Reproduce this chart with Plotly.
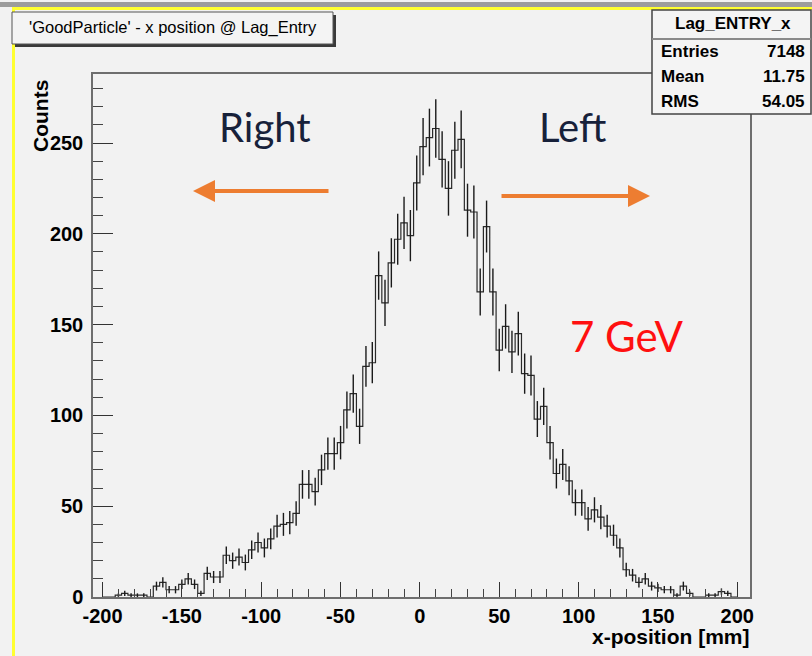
import plotly.graph_objects as go
import numpy as np

# ---- data ----
bin_width = 4
bin_start = -200
counts = [0, 0, 1, 2, 1, 1, 1, 0, 6, 8,
          4, 4, 7, 10, 7, 2, 13, 11, 11, 23,
          20, 22, 19, 26, 30, 27, 32, 39, 40, 41,
          46, 62, 62, 58, 70, 79, 79, 85, 103, 112,
          94, 127, 129, 177, 162, 184, 197, 206, 199, 228,
          248, 253, 258, 241, 225, 246, 252, 213, 212, 168,
          204, 168, 136, 149, 135, 145, 123, 122, 98, 105,
          85, 68, 73, 64, 52, 52, 43, 48, 44, 39,
          34, 27, 15, 12, 8, 10, 6, 5, 4, 4,
          1, 6, 2, 0, 0, 1, 1, 3, 2, 0]
x_ticks = [-200, -150, -100, -50, 0, 50, 100, 150, 200]
x_tick_labels = ["-200", "-150", "-100", "-50", "0", "50", "100", "150", "200"]
y_ticks = [0, 50, 100, 150, 200, 250]
y_tick_labels = ["0", "50", "100", "150", "200", "250"]
stats_labels = ["Entries", "Mean", "RMS"]
stats_values = ["7148", "11.75", "54.05"]

W, H = 812, 656
L, R, T, B = 93, 750, 74, 597


def px(xp):
    return (xp - L) / (R - L)


def py(yp):
    return (B - yp) / (B - T)


n = len(counts)
edges = [bin_start + bin_width * i for i in range(n + 1)]
centers = [bin_start + bin_width * (i + 0.5) for i in range(n)]
step_x = [edges[0]] + edges
step_y = [0] + counts + [counts[-1]]

fig = go.Figure()
fig.add_trace(go.Scatter(x=step_x, y=step_y, mode="lines", line_shape="hv",
                         line=dict(color="#2a2a2a", width=1.2), hoverinfo="skip",
                         showlegend=False))
fig.add_trace(go.Scatter(x=centers, y=counts, mode="markers",
                         marker=dict(size=1, color="rgba(0,0,0,0)"),
                         error_y=dict(type="data", array=list(np.sqrt(counts)),
                                      color="#1a1a1a", thickness=1.4, width=0),
                         showlegend=False, hoverinfo="skip"))

tickfont = dict(family="Liberation Sans, Arial, sans-serif", size=20, color="black", weight="bold")

fig.update_xaxes(range=[-206, 208], showgrid=False, zeroline=False,
                 showline=True, linecolor="#6e6e6e", linewidth=1.5, mirror=True,
                 ticks="inside", ticklen=15, tickcolor="#333", tickwidth=1.3,
                 tickvals=x_ticks, ticktext=x_tick_labels, tickfont=tickfont,
                 ticklabelstandoff=0,
                 minor=dict(ticks="inside", ticklen=8, dtick=10, tickcolor="#444", tickwidth=1.2,
                            showgrid=False))
fig.update_yaxes(range=[0, 288], showgrid=False, zeroline=False,
                 showline=True, linecolor="#6e6e6e", linewidth=1.5, mirror=True,
                 ticks="inside", ticklen=20, tickcolor="#333", tickwidth=1.3,
                 tickvals=y_ticks, ticktext=y_tick_labels, tickfont=tickfont,
                 ticklabelstandoff=4,
                 minor=dict(ticks="inside", ticklen=10, dtick=10, tickcolor="#444", tickwidth=1.2,
                            showgrid=False))

shapes = []
# top gray + yellow border, left yellow border
shapes.append(dict(type="rect", xref="paper", yref="paper", x0=px(0), x1=px(W), y0=py(7), y1=py(2),
                   fillcolor="#9c9c9c", line=dict(width=0), layer="below"))
shapes.append(dict(type="rect", xref="paper", yref="paper", x0=px(12), x1=px(W), y0=py(10), y1=py(7),
                   fillcolor="#ffff30", line=dict(width=0), layer="below"))
shapes.append(dict(type="rect", xref="paper", yref="paper", x0=px(12), x1=px(15), y0=py(H), y1=py(7),
                   fillcolor="#ffff30", line=dict(width=0), layer="below"))
# title box with shadow
shapes.append(dict(type="rect", xref="paper", yref="paper", x0=px(15), x1=px(336), y0=py(47), y1=py(15),
                   fillcolor="#3a3a3a", line=dict(width=0)))
shapes.append(dict(type="rect", xref="paper", yref="paper", x0=px(12), x1=px(333), y0=py(44), y1=py(12),
                   fillcolor="#f4f4f4", line=dict(color="#555", width=1)))
# stats box
shapes.append(dict(type="rect", xref="paper", yref="paper", x0=px(652), x1=px(811), y0=py(114), y1=py(10),
                   fillcolor="#f4f4f4", line=dict(color="#444", width=1.5)))
shapes.append(dict(type="line", xref="paper", yref="paper", x0=px(652), x1=px(811), y0=py(39), y1=py(39),
                   line=dict(color="#8a8a8a", width=2)))

annotations = []
annotations.append(dict(x=px(173), y=py(28), xref="paper", yref="paper", showarrow=False,
                        text="'GoodParticle' - x position @ Lag_Entry",
                        font=dict(family="Liberation Sans, Arial", size=16.5, color="black"),
                        xanchor="center", yanchor="middle"))
annotations.append(dict(x=px(733), y=py(24), xref="paper", yref="paper", showarrow=False,
                        text="Lag_ENTRY_x",
                        font=dict(family="Liberation Sans", size=17, color="black", weight="bold"),
                        xanchor="center", yanchor="middle"))
for i, (lab, val) in enumerate(zip(stats_labels, stats_values)):
    yy = 52 + 24.5 * i
    annotations.append(dict(x=px(659), y=py(yy), xref="paper", yref="paper", showarrow=False,
                            text=lab, font=dict(family="Liberation Sans", size=17, color="black", weight="bold"),
                            xanchor="left", yanchor="middle"))
    annotations.append(dict(x=px(807), y=py(yy), xref="paper", yref="paper", showarrow=False,
                            text=val, font=dict(family="Liberation Sans", size=17, color="black", weight="bold"),
                            xanchor="right", yanchor="middle"))
# axis titles
annotations.append(dict(x=px(40), y=py(78), xref="paper", yref="paper", showarrow=False,
                        text="Counts", textangle=-90,
                        font=dict(family="Liberation Sans", size=21, color="black", weight="bold"),
                        xanchor="center", yanchor="top"))
annotations.append(dict(x=px(752), y=py(636), xref="paper", yref="paper", showarrow=False,
                        text="x-position [mm]",
                        font=dict(family="Liberation Sans", size=21, color="black", weight="bold"),
                        xanchor="right", yanchor="middle"))
# overlay texts
annotations.append(dict(x=px(265), y=py(127), xref="paper", yref="paper", showarrow=False,
                        text="Right", font=dict(family="Lato, Open Sans", size=40, color="#17213a"),
                        xanchor="center", yanchor="middle"))
annotations.append(dict(x=px(572), y=py(127), xref="paper", yref="paper", showarrow=False,
                        text="Left", font=dict(family="Lato, Open Sans", size=40, color="#17213a"),
                        xanchor="center", yanchor="middle"))
annotations.append(dict(x=px(627), y=py(336), xref="paper", yref="paper", showarrow=False,
                        text="7 GeV", font=dict(family="Lato, Open Sans", size=42, color="#ff1010"),
                        xanchor="center", yanchor="middle"))
# arrows
annotations.append(dict(x=px(193), y=py(191), xref="paper", yref="paper", ax=137, ay=0,
                        text="", showarrow=True, arrowhead=2, arrowsize=1.1, arrowwidth=4,
                        arrowcolor="#ed7d31", standoff=0))
annotations.append(dict(x=px(650), y=py(196), xref="paper", yref="paper", ax=-150, ay=0,
                        text="", showarrow=True, arrowhead=2, arrowsize=1.1, arrowwidth=4,
                        arrowcolor="#ed7d31", standoff=0))

fig.update_layout(width=W, height=H, margin=dict(l=L, r=W - R, t=T, b=H - B),
                  paper_bgcolor="#f2f2f2", plot_bgcolor="#f2f2f2",
                  shapes=shapes, annotations=annotations, showlegend=False)

fig.write_html("out.html")
